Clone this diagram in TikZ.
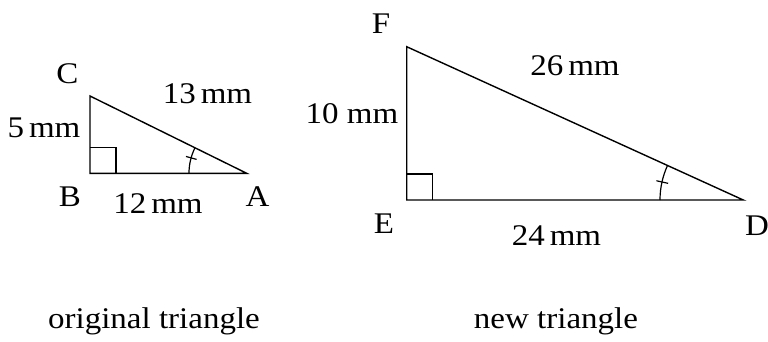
\documentclass[tikz,border=0pt]{standalone}
\usepackage{fontspec}
\setmainfont[FakeStretch=1.1]{Liberation Serif}
\usetikzlibrary{calc}
\begin{document}
\begin{tikzpicture}[x=1pt,y=-1pt,
  lbl/.style={font=\fontsize{30}{34}\selectfont, inner sep=0pt, anchor=base},
  edge/.style={line width=1.4pt, line join=miter},
  thin/.style={line width=1.2pt}]
\useasboundingbox (0,0) rectangle (768,341);
% original triangle
\coordinate (A) at (246.7,173.3);
\coordinate (B) at (90,173.3);
\coordinate (C) at (90,96);
\draw[edge] (A) -- (B) -- (C) -- cycle;
\draw[thin] ($(B)+(0,-26)$) -| ($(B)+(26,0)$);
\draw[thin] ($(A)+(-57.7,0)$) arc[start angle=180,end angle=153.7,radius=57.7pt];
\draw[thin] ($(A)+(164.5:52pt)$) -- ($(A)+(164.5:63pt)$);
\node[lbl] (lc) at (67.5,83) {C};
\node[lbl] (lb) at (70,206.7) {B};
\node[lbl] (la) at (257.5,206.7) {A};
\node[lbl] (l5) at (44,137.3) {5\,mm};
\node[lbl] (l13) at (207.5,103.3) {13\,mm};
\node[lbl] (l12) at (158,213.3) {12\,mm};
% new triangle
\coordinate (D) at (743.3,200);
\coordinate (E) at (406.7,200);
\coordinate (F) at (406.7,46.7);
\draw[edge] (D) -- (E) -- (F) -- cycle;
\draw[thin] ($(E)+(0,-26)$) -| ($(E)+(26,0)$);
\draw[thin] ($(D)+(-83.3,0)$) arc[start angle=180,end angle=155.5,radius=83.3pt];
\draw[thin] ($(D)+(167.5:77pt)$) -- ($(D)+(167.5:89pt)$);
\node[lbl] (lf) at (381,33.3) {F};
\node[lbl] (le) at (384,233.3) {E};
\node[lbl] (ld) at (757,235) {D};
\node[lbl] (l10) at (352,123.3) {10 mm};
\node[lbl] (l26) at (575,75) {26\,mm};
\node[lbl] (l24) at (556.5,245) {24\,mm};
% captions
\node[lbl] (cap1) at (154,328.3) {original triangle};
\node[lbl] (cap2) at (556,328.3) {new triangle};
\end{tikzpicture}
\end{document}
